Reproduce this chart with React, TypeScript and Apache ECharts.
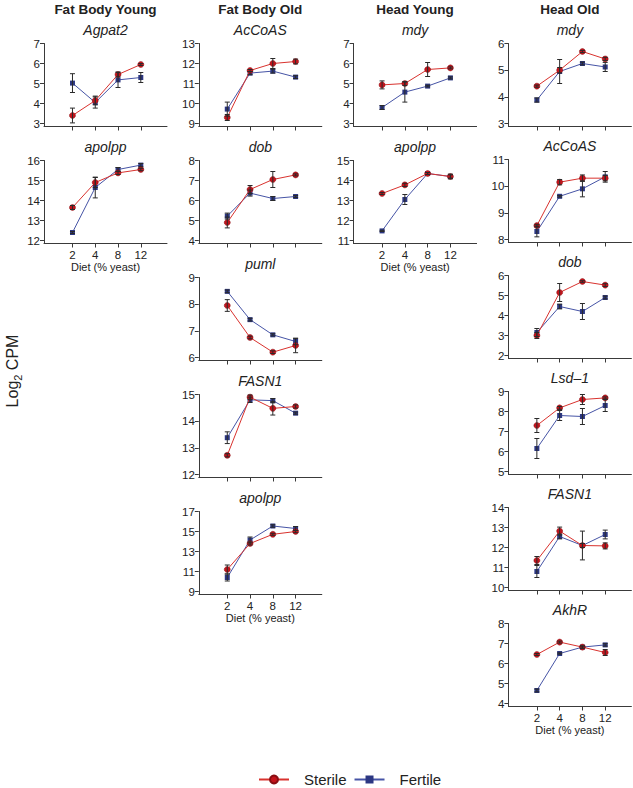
import React, { useEffect, useRef } from 'react';
import * as echarts from 'echarts';

const diets = ['2', '4', '8', '12'];
const columnTitles = ['Fat Body Young', 'Fat Body Old', 'Head Young', 'Head Old'];
const legendNames = ['Sterile', 'Fertile'];
const xAxisTitle = 'Diet (% yeast)';

// Fat Body Young
const fbyAgpat2Ticks = [3, 4, 5, 6, 7];
const fbyAgpat2Sterile = [3.4, 4.15, 5.45, 5.95];
const fbyAgpat2SterileErr = [0.37, 0.22, 0.12, 0.05];
const fbyAgpat2Fertile = [5.02, 4.05, 5.18, 5.3];
const fbyAgpat2FertileErr = [0.47, 0.28, 0.38, 0.25];

const fbyApolppTicks = [12, 13, 14, 15, 16];
const fbyApolppSterile = [13.65, 14.9, 15.38, 15.55];
const fbyApolppSterileErr = [0.1, 0.25, 0.08, 0.06];
const fbyApolppFertile = [12.4, 14.65, 15.55, 15.77];
const fbyApolppFertileErr = [0.05, 0.52, 0.1, 0.08];

// Fat Body Old
const fboAcCoASTicks = [9, 10, 11, 12, 13];
const fboAcCoASSterile = [9.3, 11.65, 12.0, 12.1];
const fboAcCoASSterileErr = [0.15, 0.05, 0.25, 0.12];
const fboAcCoASFertile = [9.72, 11.52, 11.62, 11.32];
const fboAcCoASFertileErr = [0.35, 0.08, 0.1, 0.07];

const fboDobTicks = [4, 5, 6, 7, 8];
const fboDobSterile = [4.9, 6.55, 7.05, 7.28];
const fboDobSterileErr = [0.27, 0.2, 0.4, 0.05];
const fboDobFertile = [5.22, 6.37, 6.1, 6.2];
const fboDobFertileErr = [0.15, 0.15, 0.1, 0.05];

const fboPumlTicks = [6, 7, 8, 9];
const fboPumlSterile = [7.95, 6.75, 6.2, 6.45];
const fboPumlSterileErr = [0.22, 0.05, 0.05, 0.27];
const fboPumlFertile = [8.48, 7.42, 6.85, 6.6];
const fboPumlFertileErr = [0.05, 0.05, 0.04, 0.12];

const fboFasn1Ticks = [12, 13, 14, 15];
const fboFasn1Sterile = [12.72, 14.9, 14.48, 14.55];
const fboFasn1SterileErr = [0.06, 0.08, 0.25, 0.06];
const fboFasn1Fertile = [13.38, 14.8, 14.77, 14.3];
const fboFasn1FertileErr = [0.22, 0.1, 0.08, 0.04];

const fboApolppTicks = [9, 11, 13, 15, 17];
const fboApolppSterile = [11.2, 13.8, 14.72, 15.0];
const fboApolppSterileErr = [0.45, 0.15, 0.1, 0.12];
const fboApolppFertile = [10.4, 14.15, 15.55, 15.3];
const fboApolppFertileErr = [0.35, 0.3, 0.12, 0.2];

// Head Young
const hyMdyTicks = [3, 4, 5, 6, 7];
const hyMdySterile = [4.93, 5.0, 5.7, 5.78];
const hyMdySterileErr = [0.2, 0.1, 0.35, 0.05];
const hyMdyFertile = [3.8, 4.57, 4.87, 5.28];
const hyMdyFertileErr = [0.1, 0.5, 0.04, 0.05];

const hyApolppTicks = [11, 12, 13, 14, 15];
const hyApolppSterile = [13.35, 13.78, 14.35, 14.2];
const hyApolppSterileErr = [0.05, 0.08, 0.05, 0.08];
const hyApolppFertile = [11.48, 13.05, 14.35, 14.2];
const hyApolppFertileErr = [0.03, 0.25, 0.05, 0.12];

// Head Old
const hoMdyTicks = [3, 4, 5, 6];
const hoMdySterile = [4.4, 5.0, 5.7, 5.42];
const hoMdySterileErr = [0.04, 0.1, 0.04, 0.06];
const hoMdyFertile = [3.88, 4.95, 5.25, 5.12];
const hoMdyFertileErr = [0.08, 0.45, 0.05, 0.17];

const hoAcCoASTicks = [8, 9, 10, 11];
const hoAcCoASSterile = [8.52, 10.15, 10.3, 10.3];
const hoAcCoASSterileErr = [0.05, 0.1, 0.12, 0.1];
const hoAcCoASFertile = [8.3, 9.62, 9.9, 10.35];
const hoAcCoASFertileErr = [0.2, 0.03, 0.3, 0.2];

const hoDobTicks = [2, 3, 4, 5, 6];
const hoDobSterile = [3.0, 5.15, 5.7, 5.52];
const hoDobSterileErr = [0.15, 0.45, 0.04, 0.07];
const hoDobFertile = [3.15, 4.45, 4.2, 4.9];
const hoDobFertileErr = [0.2, 0.12, 0.4, 0.07];

const hoLsd1Ticks = [5, 6, 7, 8, 9];
const hoLsd1Sterile = [7.3, 8.18, 8.6, 8.68];
const hoLsd1SterileErr = [0.35, 0.07, 0.25, 0.05];
const hoLsd1Fertile = [6.15, 7.8, 7.75, 8.3];
const hoLsd1FertileErr = [0.5, 0.25, 0.4, 0.3];

const hoFasn1Ticks = [10, 11, 12, 13, 14];
const hoFasn1Sterile = [11.35, 12.82, 12.1, 12.08];
const hoFasn1SterileErr = [0.2, 0.2, 0.1, 0.15];
const hoFasn1Fertile = [10.8, 12.55, 12.1, 12.65];
const hoFasn1FertileErr = [0.3, 0.12, 0.72, 0.22];

const hoAkhRTicks = [4, 5, 6, 7, 8];
const hoAkhRSterile = [6.45, 7.07, 6.82, 6.55];
const hoAkhRSterileErr = [0.05, 0.05, 0.05, 0.15];
const hoAkhRFertile = [4.65, 6.5, 6.82, 6.93];
const hoAkhRFertileErr = [0.07, 0.03, 0.06, 0.06];

type Panel = {
  col: number; row: number; gene: string; ticks: number[];
  s: number[]; se: number[]; f: number[]; fe: number[]; last: boolean;
};

const panels: Panel[] = [
  { col: 0, row: 0, gene: 'Agpat2', ticks: fbyAgpat2Ticks, s: fbyAgpat2Sterile, se: fbyAgpat2SterileErr, f: fbyAgpat2Fertile, fe: fbyAgpat2FertileErr, last: false },
  { col: 0, row: 1, gene: 'apolpp', ticks: fbyApolppTicks, s: fbyApolppSterile, se: fbyApolppSterileErr, f: fbyApolppFertile, fe: fbyApolppFertileErr, last: true },
  { col: 1, row: 0, gene: 'AcCoAS', ticks: fboAcCoASTicks, s: fboAcCoASSterile, se: fboAcCoASSterileErr, f: fboAcCoASFertile, fe: fboAcCoASFertileErr, last: false },
  { col: 1, row: 1, gene: 'dob', ticks: fboDobTicks, s: fboDobSterile, se: fboDobSterileErr, f: fboDobFertile, fe: fboDobFertileErr, last: false },
  { col: 1, row: 2, gene: 'puml', ticks: fboPumlTicks, s: fboPumlSterile, se: fboPumlSterileErr, f: fboPumlFertile, fe: fboPumlFertileErr, last: false },
  { col: 1, row: 3, gene: 'FASN1', ticks: fboFasn1Ticks, s: fboFasn1Sterile, se: fboFasn1SterileErr, f: fboFasn1Fertile, fe: fboFasn1FertileErr, last: false },
  { col: 1, row: 4, gene: 'apolpp', ticks: fboApolppTicks, s: fboApolppSterile, se: fboApolppSterileErr, f: fboApolppFertile, fe: fboApolppFertileErr, last: true },
  { col: 2, row: 0, gene: 'mdy', ticks: hyMdyTicks, s: hyMdySterile, se: hyMdySterileErr, f: hyMdyFertile, fe: hyMdyFertileErr, last: false },
  { col: 2, row: 1, gene: 'apolpp', ticks: hyApolppTicks, s: hyApolppSterile, se: hyApolppSterileErr, f: hyApolppFertile, fe: hyApolppFertileErr, last: true },
  { col: 3, row: 0, gene: 'mdy', ticks: hoMdyTicks, s: hoMdySterile, se: hoMdySterileErr, f: hoMdyFertile, fe: hoMdyFertileErr, last: false },
  { col: 3, row: 1, gene: 'AcCoAS', ticks: hoAcCoASTicks, s: hoAcCoASSterile, se: hoAcCoASSterileErr, f: hoAcCoASFertile, fe: hoAcCoASFertileErr, last: false },
  { col: 3, row: 2, gene: 'dob', ticks: hoDobTicks, s: hoDobSterile, se: hoDobSterileErr, f: hoDobFertile, fe: hoDobFertileErr, last: false },
  { col: 3, row: 3, gene: 'Lsd\u20131', ticks: hoLsd1Ticks, s: hoLsd1Sterile, se: hoLsd1SterileErr, f: hoLsd1Fertile, fe: hoLsd1FertileErr, last: false },
  { col: 3, row: 4, gene: 'FASN1', ticks: hoFasn1Ticks, s: hoFasn1Sterile, se: hoFasn1SterileErr, f: hoFasn1Fertile, fe: hoFasn1FertileErr, last: false },
  { col: 3, row: 5, gene: 'AkhR', ticks: hoAkhRTicks, s: hoAkhRSterile, se: hoAkhRSterileErr, f: hoAkhRFertile, fe: hoAkhRFertileErr, last: true },
];

const FONT = '"Liberation Sans", Arial, Helvetica, sans-serif';
const AXIS_COLOR = '#3a3a3a';
const TEXT_COLOR = '#222';
const RED_LINE = '#d9322e';
const RED_MARK = '#c4141c';
const BLUE_LINE = '#4654a6';
const BLUE_MARK = '#2c3782';
const ERR_COLOR = '#2a2a2a';

const COL_LEFT0 = 44;
const COL_STEP = 154.8;
const GRID_W = 123;
const ROW_TOP0 = 43.5;
const ROW_STEP = [117, 117, 117, 116];
const DATA_H = 80;
const PAD_H = 3;

export default function App() {
  const ref = useRef<HTMLDivElement>(null);

  useEffect(() => {
    if (!ref.current) return;
    const chart = echarts.init(ref.current, null, { renderer: 'svg' });

    const grids: any[] = [];
    const xAxes: any[] = [];
    const yAxes: any[] = [];
    const series: any[] = [];
    const graphics: any[] = [];

    panels.forEach((p, i) => {
      const left = COL_LEFT0 + COL_STEP * p.col;
      const top = ROW_TOP0 + ROW_STEP[p.col] * p.row;
      const lo = p.ticks[0];
      const hi = p.ticks[p.ticks.length - 1];
      grids.push({ left, top, width: GRID_W, height: DATA_H + PAD_H });
      xAxes.push({
        type: 'value', gridIndex: i, min: -1.25, max: 4.15,
        axisLine: { show: true, onZero: false, lineStyle: { color: AXIS_COLOR, width: 1 } },
        axisTick: { show: true, customValues: [0, 1, 2, 3], length: 4, lineStyle: { color: AXIS_COLOR } },
        axisLabel: {
          show: p.last, customValues: [0, 1, 2, 3], margin: 5,
          formatter: (v: number) => diets[Math.round(v)] ?? '',
          fontFamily: FONT, fontSize: 11.5, color: TEXT_COLOR,
        },
        splitLine: { show: false },
        name: p.last ? xAxisTitle : '', nameLocation: 'middle', nameGap: 18,
        nameTextStyle: { fontFamily: FONT, fontSize: 11, color: TEXT_COLOR },
      });
      yAxes.push({
        type: 'value', gridIndex: i, min: lo - ((hi - lo) * PAD_H) / DATA_H, max: hi,
        axisLine: { show: true, onZero: false, lineStyle: { color: AXIS_COLOR, width: 1 } },
        axisTick: { show: true, customValues: p.ticks, length: 4, lineStyle: { color: AXIS_COLOR } },
        axisLabel: {
          show: true, customValues: p.ticks, margin: 4,
          fontFamily: FONT, fontSize: 11.5, color: TEXT_COLOR,
        },
        splitLine: { show: false },
      });
      series.push({
        type: 'line', name: legendNames[1], xAxisIndex: i, yAxisIndex: i,
        data: p.f.map((v, k) => [k, v]),
        symbol: 'rect', symbolSize: 5, showSymbol: true,
        lineStyle: { color: BLUE_LINE, width: 1 },
        itemStyle: { color: BLUE_MARK },
        z: 2,
      });
      series.push({
        type: 'line', name: legendNames[0], xAxisIndex: i, yAxisIndex: i,
        data: p.s.map((v, k) => [k, v]),
        symbol: 'circle', symbolSize: 6, showSymbol: true,
        lineStyle: { color: RED_LINE, width: 1 },
        itemStyle: { color: RED_MARK, borderColor: '#8a0e12', borderWidth: 0.5 },
        z: 3,
      });
      const errData = [
        ...p.s.map((v, k) => [k, v, p.se[k]]),
        ...p.f.map((v, k) => [k, v, p.fe[k]]),
      ];
      series.push({
        type: 'custom', xAxisIndex: i, yAxisIndex: i, z: 4,
        data: errData,
        encode: { x: 0, y: 1 },
        renderItem: (params: any, api: any) => {
          const x = api.value(0);
          const y = api.value(1);
          const e = api.value(2);
          const a = api.coord([x, y + e]);
          const b = api.coord([x, y - e]);
          const w = 2.5;
          const style = { stroke: ERR_COLOR, lineWidth: 1 };
          return {
            type: 'group',
            children: [
              { type: 'line', shape: { x1: a[0], y1: a[1], x2: b[0], y2: b[1] }, style },
              { type: 'line', shape: { x1: a[0] - w, y1: a[1], x2: a[0] + w, y2: a[1] }, style },
              { type: 'line', shape: { x1: b[0] - w, y1: b[1], x2: b[0] + w, y2: b[1] }, style },
            ],
          };
        },
      });
      graphics.push({
        type: 'text', x: left + GRID_W / 2, y: top - 13.5,
        style: {
          text: p.gene, fontFamily: FONT, fontSize: 14, fontStyle: 'italic',
          fill: TEXT_COLOR, textAlign: 'center', textVerticalAlign: 'middle',
        },
      });
    });

    columnTitles.forEach((t, c) => {
      graphics.push({
        type: 'text', x: COL_LEFT0 + COL_STEP * c + GRID_W / 2, y: 9,
        style: {
          text: t, fontFamily: FONT, fontSize: 13.5, fontWeight: 'bold',
          fill: TEXT_COLOR, textAlign: 'center', textVerticalAlign: 'middle',
        },
      });
    });

    graphics.push({
      type: 'text', x: 12, y: 371, rotation: Math.PI / 2,
      style: {
        text: '{a|Log}{b|2}{a| CPM}',
        fontFamily: FONT, fill: TEXT_COLOR,
        textAlign: 'center', textVerticalAlign: 'middle',
        rich: {
          a: { fontFamily: FONT, fontSize: 16, lineHeight: 16, verticalAlign: 'top', color: TEXT_COLOR },
          b: { fontFamily: FONT, fontSize: 11, lineHeight: 11, verticalAlign: 'top', padding: [8, 0, 0, 0], color: TEXT_COLOR },
        },
      },
    });

    chart.setOption({
      animation: false,
      backgroundColor: '#ffffff',
      grid: grids,
      xAxis: xAxes,
      yAxis: yAxes,
      series,
      graphic: graphics,
      legend: {
        data: legendNames,
        left: 253, top: 767,
        itemWidth: 30, itemHeight: 10, itemGap: 7,
        textStyle: { fontFamily: FONT, fontSize: 15, color: TEXT_COLOR, padding: [0, 0, 0, 10] },
        selectedMode: false,
      },
    });

    return () => chart.dispose();
  }, []);

  return (
    <div
      ref={ref}
      style={{ position: 'absolute', left: 0, top: 0, width: 633, height: 788, background: '#fff' }}
    />
  );
}
